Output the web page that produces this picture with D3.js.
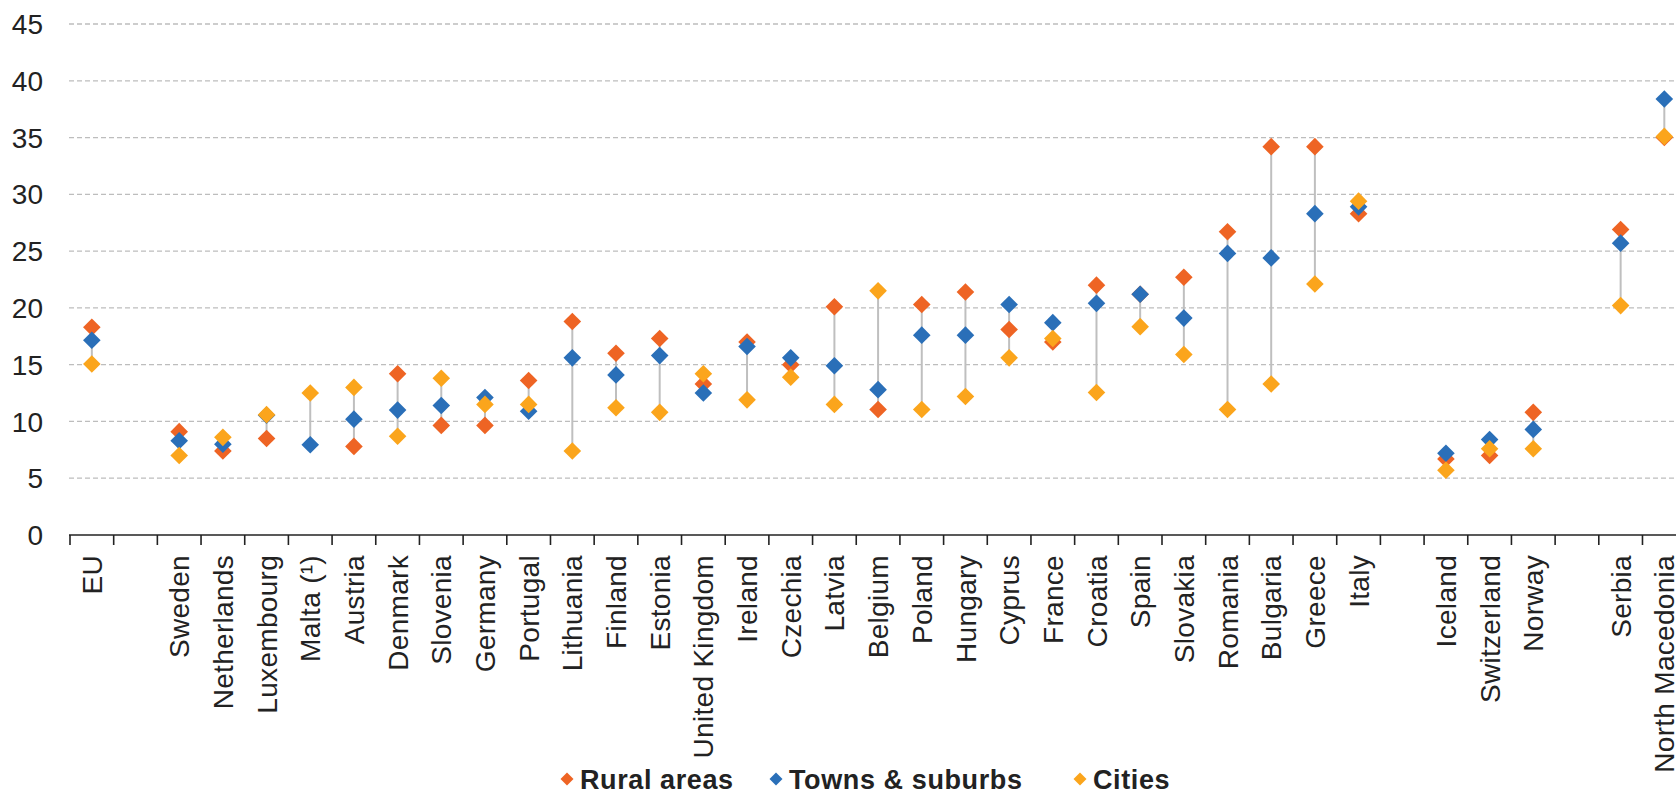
<!DOCTYPE html>
<html>
<head>
<meta charset="utf-8">
<script src="https://cdn.jsdelivr.net/npm/d3@7/dist/d3.min.js"></script>
<style>
	body {margin: 0; background: #fff;}
	svg text {font-family: 'Liberation Sans', Arial, sans-serif; fill: #222;}
</style>
</head>
<body>
<svg id="chart" width="1676" height="793"></svg>
<script>
(function() {
	'use strict';

	// blank entries are the gaps between EU / members / EFTA / candidates
	var countries = ['EU', '', 'Sweden', 'Netherlands', 'Luxembourg', 'Malta (\u00b9)', 'Austria', 'Denmark',
		'Slovenia', 'Germany', 'Portugal', 'Lithuania', 'Finland', 'Estonia', 'United Kingdom', 'Ireland',
		'Czechia', 'Latvia', 'Belgium', 'Poland', 'Hungary', 'Cyprus', 'France', 'Croatia', 'Spain',
		'Slovakia', 'Romania', 'Bulgaria', 'Greece', 'Italy', '', 'Iceland', 'Switzerland', 'Norway', '',
		'Serbia', 'North Macedonia'];

	var rural = [18.3, null, 9.1, 7.4, 8.5, null, 7.8, 14.2, 9.65, 9.65, 13.6, 18.8, 16.0, 17.3, 13.3, 17.0,
		15.0, 20.1, 11.05, 20.3, 21.4, 18.1, 17.0, 22.0, 21.2, 22.7, 26.7, 34.2, 34.2, 28.3, null,
		6.7, 7.0, 10.8, null, 26.9, 35.0];
	var towns = [17.15, null, 8.3, 8.0, 10.55, 7.95, 10.2, 11.0, 11.4, 12.1, 10.9, 15.6, 14.1, 15.8, 12.5, 16.6,
		15.6, 14.9, 12.8, 17.6, 17.6, 20.3, 18.7, 20.4, 21.2, 19.1, 24.8, 24.4, 28.3, 28.9, null,
		7.2, 8.4, 9.3, null, 25.7, 38.4];
	var cities = [15.06, null, 7.0, 8.6, 10.6, 12.5, 13.0, 8.7, 13.8, 11.5, 11.5, 7.4, 11.2, 10.8, 14.2, 11.9,
		13.9, 11.5, 21.5, 11.05, 12.2, 15.6, 17.3, 12.55, 18.35, 15.9, 11.05, 13.3, 22.1, 29.4, null,
		5.7, 7.6, 7.6, null, 20.2, 35.1];

	var yTicks = [0, 5, 10, 15, 20, 25, 30, 35, 40, 45];
	var seriesNames = ['Rural areas', 'Towns & suburbs', 'Cities'];
	var seriesColors = ['#ee6424', '#2a6fb8', '#fba51c'];

	var svg = d3.select('#chart');
	var width = 1676;

	var x = d3.scaleBand()
		.domain(d3.range(countries.length))
		.range([70, 70 + countries.length * 43.68])
		.padding(0);
	var y = d3.scaleLinear().domain([0, 45]).range([535, 24]);

	// gridlines
	svg.append('g').selectAll('line')
		.data(yTicks.filter(function(d) {return d > 0;}))
		.enter().append('line')
		.attr('x1', 69).attr('x2', width)
		.attr('y1', function(d) {return y(d);})
		.attr('y2', function(d) {return y(d);})
		.attr('stroke', '#bdbdbd')
		.attr('stroke-width', 1.3)
		.attr('stroke-dasharray', '5,3');

	// y labels
	svg.append('g').selectAll('text')
		.data(yTicks)
		.enter().append('text')
		.attr('x', 43)
		.attr('y', function(d) {return y(d);})
		.attr('dy', '0.36em')
		.attr('text-anchor', 'end')
		.style('font-size', '28px')
		.text(function(d) {return d;});

	// x axis with ticks at every slot boundary
	var xAxis = svg.append('g');
	xAxis.append('line')
		.attr('x1', 69).attr('x2', width)
		.attr('y1', y(0)).attr('y2', y(0))
		.attr('stroke', '#222').attr('stroke-width', 1.6);
	xAxis.selectAll('line.tick')
		.data(d3.range(countries.length))
		.enter().append('line')
		.attr('class', 'tick')
		.attr('x1', function(d) {return x(d);})
		.attr('x2', function(d) {return x(d);})
		.attr('y1', y(0)).attr('y2', y(0) + 10)
		.attr('stroke', '#222').attr('stroke-width', 1.6);
	xAxis.selectAll('text')
		.data(countries)
		.enter().append('text')
		.attr('transform', function(d, i) {
			return 'translate(' + (x(i) + x.bandwidth() / 2) + ',555) rotate(-90)';})
		.attr('dy', '0.36em')
		.attr('text-anchor', 'end')
		.style('font-size', '28px')
		.style('letter-spacing', '0.3px')
		.text(function(d) {return d;});

	// connectors min -> max
	var rows = countries.map(function(c, i) {
		return {i: i, values: [rural[i], towns[i], cities[i]]};});
	svg.append('g').selectAll('line')
		.data(rows.filter(function(r) {
			return r.values.filter(function(v) {return v !== null;}).length > 1;}))
		.enter().append('line')
		.attr('x1', function(r) {return x(r.i) + x.bandwidth() / 2;})
		.attr('x2', function(r) {return x(r.i) + x.bandwidth() / 2;})
		.attr('y1', function(r) {return y(d3.min(r.values));})
		.attr('y2', function(r) {return y(d3.max(r.values));})
		.attr('stroke', '#bfbfbf')
		.attr('stroke-width', 2);

	var diamond = d3.symbol().type(d3.symbolSquare).size(155);
	[rural, towns, cities].forEach(function(series, s) {
		svg.append('g').selectAll('path')
			.data(series.map(function(v, i) {return {i: i, v: v};})
				.filter(function(d) {return d.v !== null;}))
			.enter().append('path')
			.attr('d', diamond)
			.attr('transform', function(d) {
				return 'translate(' + (x(d.i) + x.bandwidth() / 2) + ',' + y(d.v) + ') rotate(45)';})
			.attr('fill', seriesColors[s]);
	});

	// legend
	var legendX = [567, 776, 1080];
	var legend = svg.append('g').selectAll('g')
		.data(seriesNames)
		.enter().append('g')
		.attr('transform', function(d, i) {return 'translate(' + legendX[i] + ',779)';});
	legend.append('path')
		.attr('d', d3.symbol().type(d3.symbolSquare).size(85))
		.attr('transform', 'rotate(45)')
		.attr('fill', function(d, i) {return seriesColors[i];});
	legend.append('text')
		.attr('x', 13)
		.attr('dy', '0.36em')
		.style('font-size', '27px')
		.style('font-weight', 'bold')
		.style('letter-spacing', '0.6px')
		.text(function(d) {return d;});
})();
</script>
</body>
</html>
